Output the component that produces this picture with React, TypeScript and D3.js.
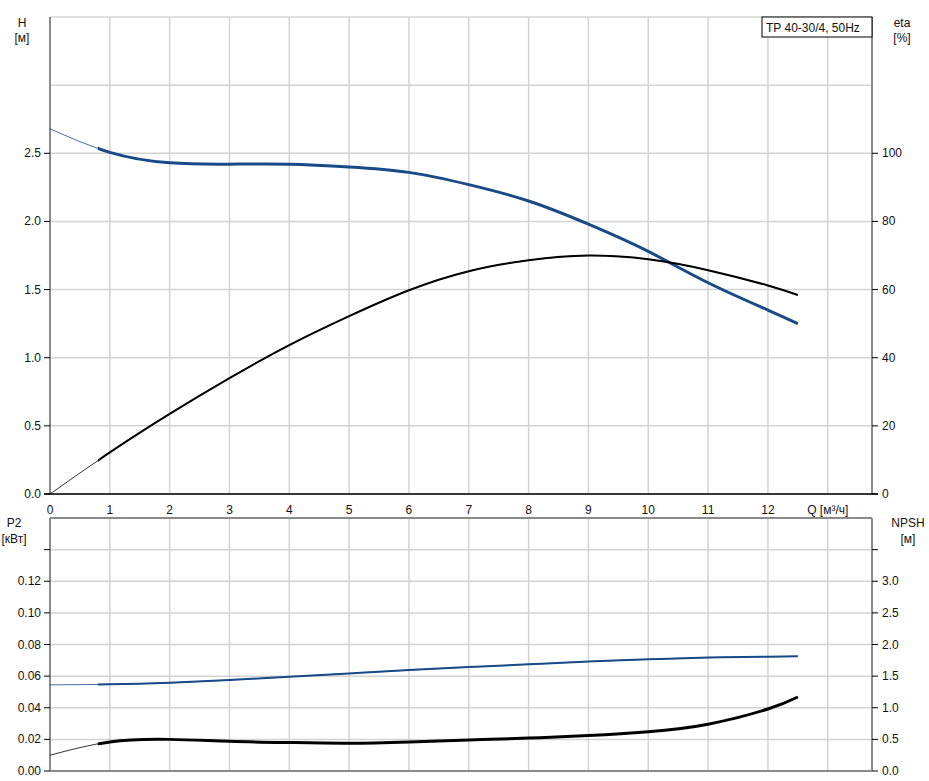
import React from 'react';
import * as d3 from 'd3';

// flow points (m³/h) the curves are read at
const flow = [0, 1, 2, 3, 4, 5, 6, 7, 8, 9, 10, 11, 12, 12.5];
// head H [m]
const head = [2.68, 2.507, 2.43, 2.42, 2.42, 2.4, 2.36, 2.27, 2.15, 1.98, 1.78, 1.55, 1.35, 1.25];
// efficiency eta [%]
const eta = [0, 12.2, 23.5, 34, 43.7, 52.2, 59.8, 65.4, 68.6, 70, 68.9, 65.7, 61.2, 58.4];
// power P2 [kW]
const power = [0.0545, 0.0548, 0.0558, 0.0575, 0.0596, 0.0617, 0.0638, 0.0657, 0.0675, 0.0692, 0.0706, 0.0717, 0.0723, 0.0725];
// NPSH [m]
const npsh = [0.25, 0.46, 0.5, 0.47, 0.45, 0.44, 0.46, 0.49, 0.52, 0.56, 0.62, 0.74, 0.98, 1.17];

// below this flow the curves are drawn thin
const qMinThick = 0.8;

const xTicks = [0, 1, 2, 3, 4, 5, 6, 7, 8, 9, 10, 11, 12];
const hTicks = [0, 0.5, 1, 1.5, 2, 2.5];
const etaTicks = [0, 20, 40, 60, 80, 100];
const p2Ticks = [0, 0.02, 0.04, 0.06, 0.08, 0.1, 0.12];
const npshTicks = [0, 0.5, 1, 1.5, 2, 2.5, 3];

const title = 'TP 40-30/4, 50Hz';
const BLUE = '#174a87';
const GRID = '#d3d3d3';
const AXIS = '#8a8a8a';
const FONT = 'Liberation Sans, Arial, sans-serif';

const W = 929;
const H = 781;
const left = 50;
const right = 872;

const App: React.FC = () => {
  const x = d3.scaleLinear().domain([0, 13.74]).range([left, right]);

  // top panel
  const yH = d3.scaleLinear().domain([0, 3.5]).range([494, 17]);
  const yEta = d3.scaleLinear().domain([0, 140]).range([494, 17]);
  // bottom panel
  const yP2 = d3.scaleLinear().domain([0, 0.16]).range([771, 518]);
  const yNpsh = d3.scaleLinear().domain([0, 4]).range([771, 518]);

  const mk = (vals: number[], y: d3.ScaleLinear<number, number>) =>
    d3.line<number>()
      .x((_, i) => x(flow[i]))
      .y(d => y(d))
      .curve(d3.curveNatural)(vals) || '';

  const hGrid = d3.range(0, 3.51, 0.5);
  const pGrid = d3.range(0, 0.161, 0.02);
  const vGrid = d3.range(1, 14);

  const txt = { fontFamily: FONT, fontSize: 12, fill: '#111' } as const;

  const curve = (vals: number[], y: d3.ScaleLinear<number, number>, color: string, w: number) => (
    <g>
      <path d={mk(vals, y)} fill="none" stroke={color} strokeWidth={1} opacity={0.8} />
      <path d={mk(vals, y)} fill="none" stroke={color} strokeWidth={w} clipPath="url(#thick)" />
    </g>
  );

  return (
    <svg width={W} height={H} style={{ position: 'absolute', left: 0, top: 0, background: '#fff' }}>
      <defs>
        <clipPath id="thick">
          <rect x={x(qMinThick)} y={0} width={W} height={H} />
        </clipPath>
      </defs>

      {/* top panel grid */}
      {vGrid.map(q => (
        <line key={'tv' + q} x1={x(q)} x2={x(q)} y1={17} y2={494} stroke={GRID} strokeWidth={1.5} />
      ))}
      {hGrid.map(v => (
        <line key={'th' + v} x1={left} x2={right} y1={yH(v)} y2={yH(v)} stroke={GRID} strokeWidth={1.5} />
      ))}

      {/* bottom panel grid */}
      {vGrid.map(q => (
        <line key={'bv' + q} x1={x(q)} x2={x(q)} y1={518} y2={771} stroke={GRID} strokeWidth={1.5} />
      ))}
      {pGrid.map(v => (
        <line key={'bh' + v} x1={left} x2={right} y1={yP2(v)} y2={yP2(v)} stroke={GRID} strokeWidth={1.5} />
      ))}

      {/* axes top */}
      <line x1={left} x2={left} y1={17} y2={494} stroke={AXIS} strokeWidth={2} />
      <line x1={right} x2={right} y1={17} y2={494} stroke={AXIS} strokeWidth={2} />
      <line x1={left - 6} x2={right + 6} y1={494} y2={494} stroke="#000" strokeWidth={1.5} />
      {hTicks.map(v => (
        <g key={'hl' + v}>
          <line x1={left - 6} x2={left} y1={yH(v)} y2={yH(v)} stroke="#000" />
          <text {...txt} x={41} y={yH(v) + 4} textAnchor="end">{v.toFixed(1)}</text>
        </g>
      ))}
      {etaTicks.map(v => (
        <g key={'el' + v}>
          <line x1={right} x2={right + 6} y1={yEta(v)} y2={yEta(v)} stroke="#000" />
          <text {...txt} x={882} y={yEta(v) + 4}>{v}</text>
        </g>
      ))}
      {xTicks.map(q => (
        <text key={'xl' + q} {...txt} x={x(q)} y={514} textAnchor="middle">{q}</text>
      ))}
      <text {...txt} x={x(13)} y={514} textAnchor="middle">Q [м³/ч]</text>

      <text {...txt} x={22} y={27} textAnchor="middle">H</text>
      <text {...txt} x={22} y={42} textAnchor="middle">[м]</text>
      <text {...txt} x={902} y={27} textAnchor="middle">eta</text>
      <text {...txt} x={902} y={42} textAnchor="middle">[%]</text>

      {/* axes bottom */}
      <line x1={left} x2={left} y1={518} y2={771} stroke={AXIS} strokeWidth={2} />
      <line x1={right} x2={right} y1={518} y2={771} stroke={AXIS} strokeWidth={2} />
      <line x1={left} x2={right} y1={518} y2={518} stroke={AXIS} strokeWidth={2} />
      <line x1={left} x2={right} y1={771} y2={771} stroke={AXIS} strokeWidth={2} />
      {p2Ticks.map(v => (
        <g key={'pl' + v}>
          <line x1={left - 6} x2={left} y1={yP2(v)} y2={yP2(v)} stroke="#000" />
          <text {...txt} x={41} y={yP2(v) + 4} textAnchor="end">{v.toFixed(2)}</text>
        </g>
      ))}
      <line x1={left - 6} x2={left} y1={yP2(0.14)} y2={yP2(0.14)} stroke="#000" />
      {npshTicks.map(v => (
        <g key={'nl' + v}>
          <line x1={right} x2={right + 6} y1={yNpsh(v)} y2={yNpsh(v)} stroke="#000" />
          <text {...txt} x={882} y={yNpsh(v) + 4}>{v.toFixed(1)}</text>
        </g>
      ))}
      <line x1={right} x2={right + 6} y1={yNpsh(3.5)} y2={yNpsh(3.5)} stroke="#000" />
      <text {...txt} x={14} y={527} textAnchor="middle">P2</text>
      <text {...txt} x={14} y={543} textAnchor="middle">[кВт]</text>
      <text {...txt} x={908} y={527} textAnchor="middle">NPSH</text>
      <text {...txt} x={908} y={543} textAnchor="middle">[м]</text>

      {/* curves */}
      {curve(head, yH, BLUE, 3)}
      {curve(eta, yEta, '#000', 2)}
      {curve(power, yP2, BLUE, 2)}
      {curve(npsh, yNpsh, '#000', 3)}

      {/* legend box */}
      <rect x={762} y={17} width={110} height={20} fill="#fff" stroke="#000" strokeWidth={1} />
      <text {...txt} x={766} y={32}>{title}</text>
    </svg>
  );
};

export default App;
